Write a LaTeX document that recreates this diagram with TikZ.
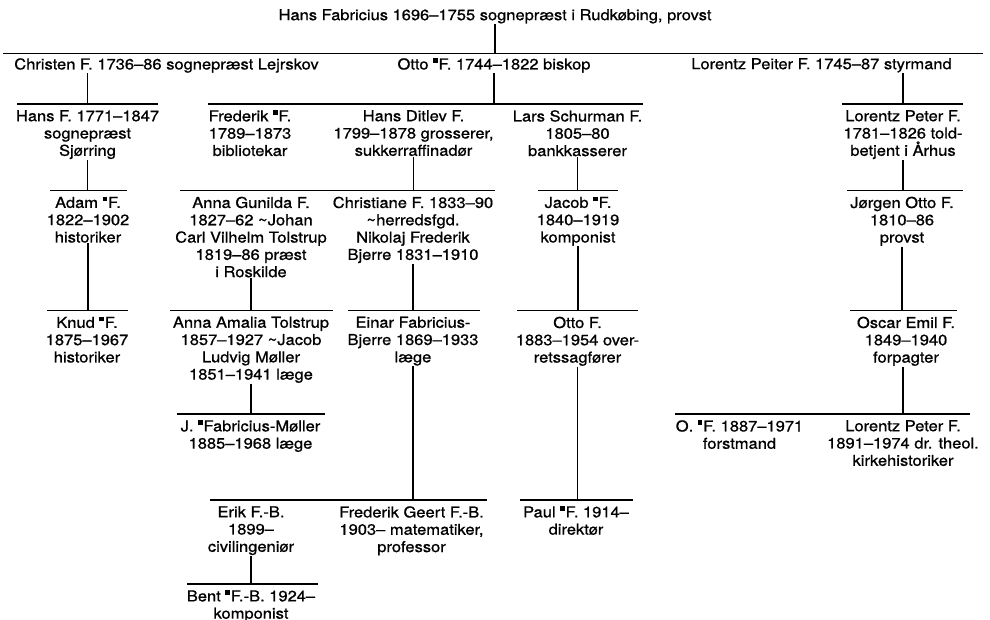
\documentclass[tikz,border=0pt]{standalone}
\usepackage{fontspec}
\setmainfont[FakeStretch=1.1,FakeBold=0.9]{TeX Gyre Heros}
\newcommand{\mk}{\raisebox{0.44em}{\rule{0.3em}{0.3em}}\kern0.06em}
\begin{document}
\begin{tikzpicture}[x=1pt, y=-1pt, line width=1.5pt,
	person/.style={align=center, inner sep=0pt, anchor=north, font=\fontsize{15}{17.3}\selectfont}]
	\useasboundingbox (0,0) rectangle (990,620);

	\node[person](hansFabricius) at (495,8.5){Hans Fabricius 1696--1755 sognepræst i Rudkøbing, provst};

	\node[person](christen) at (166.5,57.5){Christen F. 1736--86 sognepræst Lejrskov};
	\node[person](otto) at (494,57.5){Otto \mk F. 1744--1822 biskop};
	\node[person](lorentzPeiter) at (821.5,57.5){Lorentz Peiter F. 1745--87 styrmand};

	\node[person](hansF) at (87.5,109.5){Hans F. 1771--1847\\sognepræst\\Sjørring};
	\node[person](frederik) at (250,109.5){Frederik \mk F.\\1789--1873\\bibliotekar};
	\node[person](hansDitlev) at (413.5,109.5){Hans Ditlev F.\\1799--1878 grosserer,\\sukkerraffinadør};
	\node[person](larsSchurman) at (577.5,109.5){Lars Schurman F.\\1805--80\\bankkasserer};
	\node[person](lorentzPeter) at (903,109.5){Lorentz Peter F.\\1781--1826 told-\\betjent i Århus};

	\node[person](adam) at (88,196){Adam \mk F.\\1822--1902\\historiker};
	\node[person](annaGunilda) at (251,196){Anna Gunilda F.\\1827--62 \textasciitilde Johan\\Carl Vilhelm Tolstrup\\1819--86 præst\\i Roskilde};
	\node[person](christiane) at (413,196){Christiane F. 1833--90\\\textasciitilde herredsfgd.\\Nikolaj Frederik\\Bjerre 1831--1910};
	\node[person](jacob) at (578,196){Jacob \mk F.\\1840--1919\\komponist};
	\node[person](joergenOtto) at (902,196){Jørgen Otto F.\\1810--86\\provst};

	\node[person](knud) at (87,316){Knud \mk F.\\1875--1967\\historiker};
	\node[person](annaAmalia) at (251,316){Anna Amalia Tolstrup\\1857--1927 \textasciitilde Jacob\\Ludvig Møller\\1851--1941 læge};
	\node[person](einar) at (413,316){Einar Fabricius-\\Bjerre 1869--1933\\læge};
	\node[person](ottoF) at (577.5,316){Otto F.\\1883--1954 over-\\retssagfører};
	\node[person](oscarEmil) at (906,316){Oscar Emil F.\\1849--1940\\forpagter};

	\node[person](jFabricius) at (250.5,419.5){J. \mk Fabricius-Møller\\1885--1968 læge};
	\node[person](oF) at (739.5,419.5){O. \mk F. 1887--1971\\forstmand};
	\node[person](lorentzPeter2) at (903,419.5){Lorentz Peter F.\\1891--1974 dr. theol.\\kirkehistoriker};

	\node[person](erik) at (251,505.5){Erik F.-B.\\1899--\\civilingeniør};
	\node[person](frederikGeert) at (411.5,505.5){Frederik Geert F.-B.\\1903-- matematiker,\\professor};
	\node[person](paul) at (576,505.5){Paul \mk F. 1914--\\direktør};

	\node[person](bent) at (251,589.5){Bent \mk F.-B. 1924--\\komponist};

	\coordinate (barTopL) at (3,53.5);
	\coordinate (barTopR) at (983,53.5);
	\coordinate (barChristenL) at (17,104);
	\coordinate (barChristenR) at (158,104);
	\coordinate (barOttoL) at (208,104);
	\coordinate (barOttoR) at (643,104);
	\coordinate (barLorentzPeiterL) at (842,104);
	\coordinate (barLorentzPeiterR) at (963,104);
	\coordinate (barHansFL) at (50,190.5);
	\coordinate (barHansFR) at (127,190.5);
	\coordinate (barHansDitlevL) at (180,190.5);
	\coordinate (barHansDitlevR) at (495,190.5);
	\coordinate (barLarsL) at (538,190.5);
	\coordinate (barLarsR) at (618,190.5);
	\coordinate (barLorentzPeterL) at (847,190.5);
	\coordinate (barLorentzPeterR) at (963,190.5);
	\coordinate (barAdamL) at (47,310.5);
	\coordinate (barAdamR) at (128,310.5);
	\coordinate (barAnnaGunildaL) at (170,310.5);
	\coordinate (barAnnaGunildaR) at (333,310.5);
	\coordinate (barChristianeL) at (348,310.5);
	\coordinate (barChristianeR) at (480,310.5);
	\coordinate (barJacobL) at (517,310.5);
	\coordinate (barJacobR) at (638,310.5);
	\coordinate (barJoergenL) at (850,310.5);
	\coordinate (barJoergenR) at (957,310.5);
	\coordinate (barAnnaAmaliaL) at (177,414);
	\coordinate (barAnnaAmaliaR) at (325,414);
	\coordinate (barOscarL) at (675,414);
	\coordinate (barOscarR) at (970,414);
	\coordinate (barEinarL) at (210,500);
	\coordinate (barEinarR) at (487,500);
	\coordinate (barOttoFL) at (520,500);
	\coordinate (barOttoFR) at (633,500);
	\coordinate (barErikL) at (187,584);
	\coordinate (barErikR) at (318,584);

	\draw (barTopL) -- (barTopR);
	\draw (barChristenL) -- (barChristenR);
	\draw (barOttoL) -- (barOttoR);
	\draw (barLorentzPeiterL) -- (barLorentzPeiterR);
	\draw (barHansFL) -- (barHansFR);
	\draw (barHansDitlevL) -- (barHansDitlevR);
	\draw (barLarsL) -- (barLarsR);
	\draw (barLorentzPeterL) -- (barLorentzPeterR);
	\draw (barAdamL) -- (barAdamR);
	\draw (barAnnaGunildaL) -- (barAnnaGunildaR);
	\draw (barChristianeL) -- (barChristianeR);
	\draw (barJacobL) -- (barJacobR);
	\draw (barJoergenL) -- (barJoergenR);
	\draw (barAnnaAmaliaL) -- (barAnnaAmaliaR);
	\draw (barOscarL) -- (barOscarR);
	\draw (barEinarL) -- (barEinarR);
	\draw (barOttoFL) -- (barOttoFR);
	\draw (barErikL) -- (barErikR);

	\draw (hansFabricius.south) -- (hansFabricius.south |- barTopL);
	\draw (christen.south -| hansF) -- (hansF |- barChristenL);
	\draw (otto.south) -- (otto.south |- barOttoL);
	\draw (lorentzPeiter.south -| lorentzPeter) -- (lorentzPeter |- barLorentzPeiterL);
	\draw (hansF.south) -- (hansF.south |- barHansFL);
	\draw (hansDitlev.south) -- (hansDitlev.south |- barHansDitlevL);
	\draw (larsSchurman.south) -- (larsSchurman.south |- barLarsL);
	\draw (lorentzPeter.south) -- (lorentzPeter.south |- barLorentzPeterL);
	\draw (adam.south) -- (adam.south |- barAdamL);
	\draw (annaGunilda.south) -- (annaGunilda.south |- barAnnaGunildaL);
	\draw (christiane.south) -- (christiane.south |- barChristianeL);
	\draw (jacob.south) -- (jacob.south |- barJacobL);
	\draw (joergenOtto.south) -- (joergenOtto.south |- barJoergenL);
	\draw (annaAmalia.south) -- (annaAmalia.south |- barAnnaAmaliaL);
	\draw (oscarEmil.south -| lorentzPeter2) -- (lorentzPeter2 |- barOscarL);
	\draw (einar.south) -- (einar.south |- barEinarL);
	\draw (ottoF.south) -- (ottoF.south |- barOttoFL);
	\draw (erik.south) -- (erik.south |- barErikL);
\end{tikzpicture}
\end{document}
